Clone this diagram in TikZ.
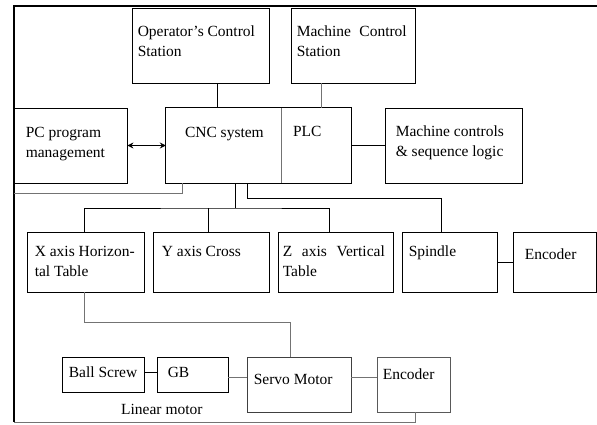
\documentclass[tikz,border=0pt]{standalone}
\usepackage{fontspec}
\setmainfont{Liberation Serif}
\usetikzlibrary{arrows.meta}
\newcommand{\lbl}{\fontsize{15.5}{20}\selectfont}

\begin{document}
\begin{tikzpicture}[x=1pt,y=-1pt,
    box/.style={draw,line width=0.8pt,inner sep=0pt},
    txt/.style={anchor=north west,inner sep=0pt,align=left,font=\lbl},
    wire/.style={line width=0.8pt},
    pale/.style={line width=0.8pt,draw=black!55}]
  \useasboundingbox (0,0) rectangle (597,425);
  \coordinate (ltop) at (14,6);
  \coordinate (rtop) at (597,6);
  \coordinate (lbot) at (14,422);
  \coordinate (bus)  at (235,208);
  \node[box,minimum width=137,minimum height=75] (opr)  at (200.5,45.5) {};
  \node[box,minimum width=124,minimum height=75] (mcs)  at (353,45.5)   {};
  \node[box,minimum width=113,minimum height=75] (pc)   at (70.5,145.5) {};
  \node[inner sep=0pt,minimum width=116,minimum height=75] (cnc) at (224,145.5) {};
  \node[inner sep=0pt,minimum width=69,minimum height=75]  (plc) at (316.5,145.5) {};
  \node[box,minimum width=137,minimum height=75] (mcl)  at (453.5,145.5) {};
  \node[box,minimum width=117,minimum height=60] (xax)  at (85.5,262)   {};
  \node[box,minimum width=116,minimum height=60] (yax)  at (211,262)    {};
  \node[box,minimum width=115,minimum height=60] (zax)  at (335.5,262)  {};
  \node[box,minimum width=95,minimum height=60]  (spd)  at (449.5,262)  {};
  \node[box,minimum width=83,minimum height=60]  (enc)  at (554.5,262)  {};
  \node[box,minimum width=82,minimum height=35]  (bsc)  at (103,374.5)  {};
  \node[box,minimum width=71,minimum height=35]  (gb)   at (192.5,374.5) {};
  \node[box,draw=black!75,minimum width=104,minimum height=55] (srv)  at (299,384.5) {};
  \node[box,draw=black!65,minimum width=73,minimum height=55]  (enc2) at (413.5,384.5) {};
  \draw[line width=0.8pt] (cnc.north west) rectangle (plc.south east);
  \draw[pale] (plc.north west) -- (plc.south west);
  \node[txt] (opr-t) at ([xshift=6pt,yshift=-15pt]opr.north west) {\strut Operator's Control\\Station};
  \node[txt,text width=110pt] (mcs-t) at ([xshift=6pt,yshift=-15pt]mcs.north west) {\strut Machine\hfill Control\\Station};
  \node[txt] (pc-t)  at ([xshift=12pt,yshift=-16pt]pc.north west)  {\strut PC program\\management};
  \node[txt] (cnc-t) at ([xshift=19pt,yshift=-16pt]cnc.north west) {\strut CNC system};
  \node[txt] (plc-t) at ([xshift=11pt,yshift=-15pt]plc.north west) {\strut PLC};
  \node[txt] (mcl-t) at ([xshift=11pt,yshift=-15pt]mcl.north west) {\strut Machine controls\\\& sequence logic};
  \node[txt] (xax-t) at ([xshift=8pt,yshift=-11pt]xax.north west)  {\strut X axis Horizon-\\tal Table};
  \node[txt] (yax-t) at ([xshift=9pt,yshift=-11pt]yax.north west)  {\strut Y axis Cross};
  \node[txt,text width=102pt] (zax-t) at ([xshift=5pt,yshift=-11pt]zax.north west) {\strut Z\hfill axis\hfill Vertical\\Table};
  \node[txt] (spd-t) at ([xshift=7pt,yshift=-11pt]spd.north west)  {\strut Spindle};
  \node[txt] (enc-t) at ([xshift=12pt,yshift=-14pt]enc.north west) {\strut Encoder};
  \node[txt] (bsc-t) at ([xshift=7pt,yshift=-7pt]bsc.north west)   {\strut Ball Screw};
  \node[txt] (gb-t)  at ([xshift=11pt,yshift=-7pt]gb.north west)   {\strut GB};
  \node[txt] (srv-t) at ([xshift=7pt,yshift=-14pt]srv.north west)  {\strut Servo Motor};
  \node[txt] (enc2-t) at ([xshift=6pt,yshift=-9pt]enc2.north west) {\strut Encoder};
  \node[anchor=base west,inner sep=0pt,font=\lbl] (lin) at (121,414) {Linear motor};
  \draw[line width=1.1pt] (rtop) -- (ltop) -- (lbot);
  \draw[wire] ([xshift=16.5pt]opr.south) -- ([xshift=16.5pt]opr.south |- cnc.north);
  \draw[pale] ([xshift=-32pt]mcs.south) -- ([xshift=-32pt]mcs.south |- plc.north);
  \draw[wire] (plc.east) -- (mcl.west);
  \draw[line width=1.8pt,{Stealth[length=6pt,width=6pt]}-{Stealth[length=6pt,width=6pt]}] (pc.east) -- (cnc.west);
  \draw[pale] ([xshift=17pt]cnc.south west) |- ([yshift=-10pt]pc.south west);
  \draw[wire] ([xshift=11pt]cnc.south) -- (bus);
  \draw[wire] ([xshift=-1.5pt]xax.north) |- (bus) -| ([xshift=-6.5pt]zax.north);
  \draw[wire] ([xshift=-3pt]yax.north) -- ([xshift=-3pt]yax.north |- bus);
  \draw[wire] ([xshift=23pt]cnc.south) -- ++(0,15) -| ([xshift=-8.5pt]spd.north);
  \draw[wire] (spd.east) -- (enc.west);
  \draw[pale] ([xshift=-1.5pt]xax.south) -- ++(0,30) -| ([xshift=-9pt]srv.north);
  \draw[wire] ([yshift=2.5pt]bsc.east) -- ([yshift=2.5pt]bsc.east -| gb.west);
  \draw[pale] ([yshift=-2.5pt]gb.east) -- ([yshift=-2.5pt]gb.east -| srv.west);
  \draw[pale] ([yshift=7.5pt]srv.east) -- ([yshift=7.5pt]srv.east -| enc2.west);
  \draw[pale] ([xshift=1.5pt]enc2.south) |- (lbot);
\end{tikzpicture}
\end{document}
